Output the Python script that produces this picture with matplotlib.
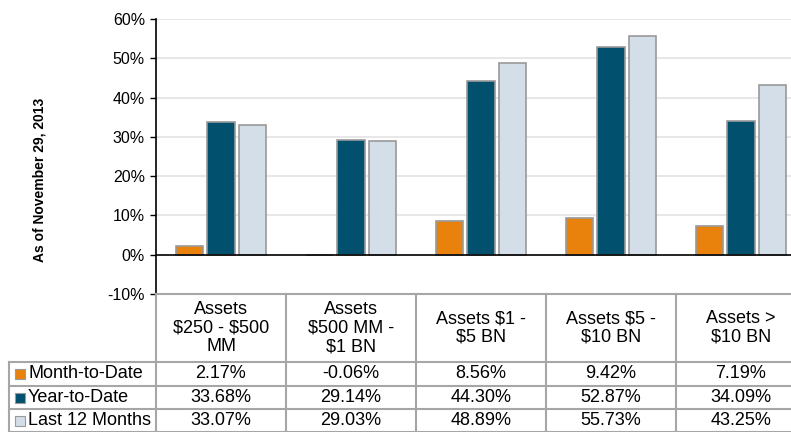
import numpy as np
import matplotlib
matplotlib.use("Agg")
import matplotlib.pyplot as plt

plt.rcParams['font.family'] = ['Liberation Sans', 'DejaVu Sans']

# Data
categories = ["Assets\n\\$250 - \\$500\nMM", "Assets\n\\$500 MM -\n\\$1 BN",
              "Assets \\$1 -\n\\$5 BN", "Assets \\$5 -\n\\$10 BN", "Assets >\n\\$10 BN"]
series_names = ["Month-to-Date", "Year-to-Date", "Last 12 Months"]
month_to_date = [2.17, -0.06, 8.56, 9.42, 7.19]
year_to_date = [33.68, 29.14, 44.30, 52.87, 34.09]
last_12_months = [33.07, 29.03, 48.89, 55.73, 43.25]
colors = ["#E8820C", "#00506E", "#D3DEE8"]

W, H = 791, 432
fig = plt.figure(figsize=(W / 100, H / 100), dpi=100)

# bar chart area (extends past the right edge like the original)
x0, x1 = 156, 806
ax = fig.add_axes([x0 / W, (H - 294) / H, (x1 - x0) / W, (294 - 19) / H])

x = np.arange(len(categories))
offsets = [-0.24, 0, 0.24]
for vals, off, c in zip([month_to_date, year_to_date, last_12_months], offsets, colors):
    ax.bar(x + off, vals, width=0.21, color=c, edgecolor="#999999", linewidth=1.2, zorder=3)

ax.set_xlim(-0.5, 4.5)
ax.set_ylim(-10, 60)
ax.set_yticks(range(-10, 61, 10))
ax.set_yticklabels([f"{v}%" for v in range(-10, 61, 10)], fontsize=11.5)
for v in range(10, 61, 10):
    ax.axhline(v, color="#E3E3E3", lw=1.2, zorder=1)
ax.axhline(0, color="black", lw=1.2, zorder=4)
ax.set_xticks([])
ax.tick_params(axis="y", length=4, width=1, color="black", pad=4)
ax.spines["top"].set_visible(False)
ax.spines["right"].set_visible(False)
ax.spines["bottom"].set_visible(False)
ax.spines["left"].set_linewidth(1.2)

fig.text(40 / W, 1 - 180 / H, "As of November 29, 2013", rotation=90,
         fontsize=10, fontweight="bold", ha="center", va="center")

# data table below the chart
tax = fig.add_axes([x0 / W, 0, (x1 - x0) / W, (H - 294) / H])
tax.set_xlim(-0.5, 4.5)
tax.set_ylim(432, 294)
tax.axis("off")
lc = "#A6A6A6"
unit = 130.0
left = -0.5 - (156 - 9) / unit
row_edges = [294, 362, 386, 409, 432]

tax.plot([-0.5, 4.5], [294, 294], color=lc, lw=1.5, clip_on=False)
for y in row_edges[1:]:
    tax.plot([left, 4.5], [y, y], color=lc, lw=1.5, clip_on=False)
tax.plot([left, left], [362, 432], color=lc, lw=1.5, clip_on=False)
for i in range(len(categories)):
    tax.plot([i - 0.5, i - 0.5], [294, 432], color=lc, lw=1.5, clip_on=False)

for i, cat in enumerate(categories):
    tax.text(i, 328, cat, ha="center", va="center", fontsize=13, linespacing=1.12)

rows = [month_to_date, year_to_date, last_12_months]
for r, (name, vals, c) in enumerate(zip(series_names, rows, colors)):
    yc = (row_edges[r + 1] + row_edges[r + 2]) / 2
    tax.plot([left + 11 / unit], [yc], marker="s", ms=7, color=c,
             markeredgecolor="#999999", markeredgewidth=0.8, clip_on=False)
    tax.text(left + 19 / unit, yc, name, ha="left", va="center", fontsize=13)
    for i, v in enumerate(vals):
        tax.text(i, yc, f"{v:.2f}%", ha="center", va="center", fontsize=13)

fig.savefig("out.png", dpi=100)
